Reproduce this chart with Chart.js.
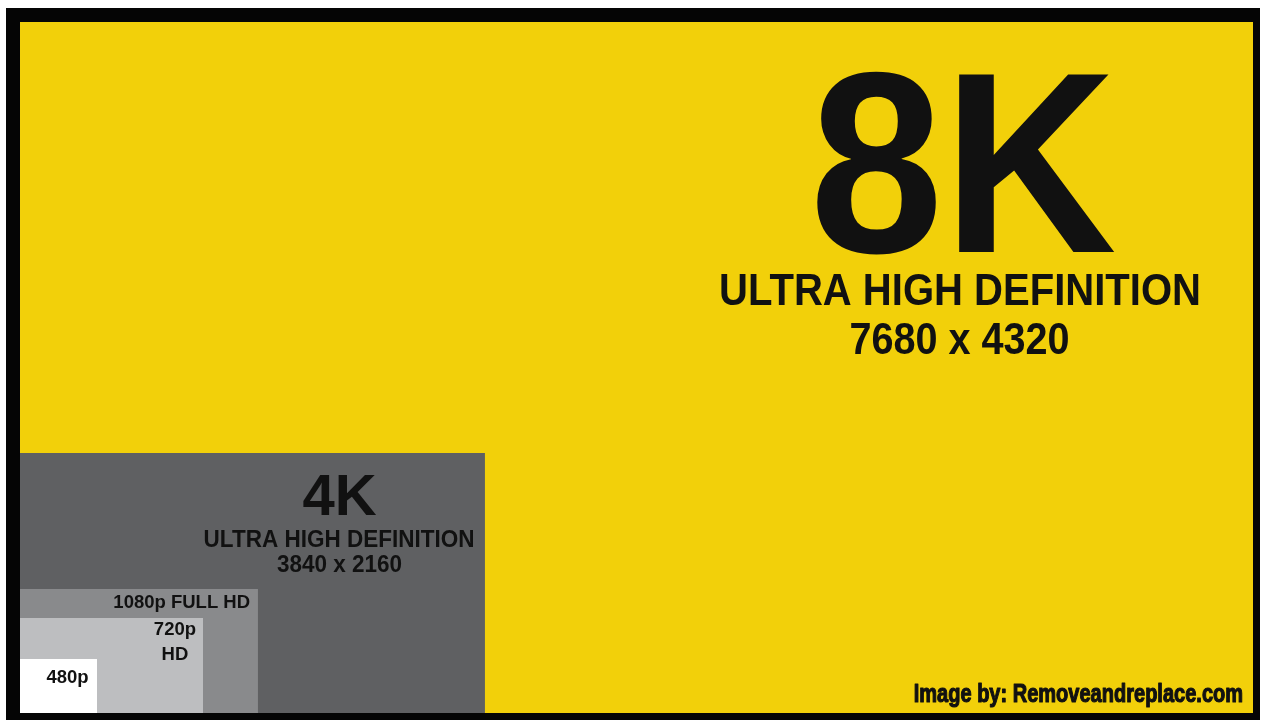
<!DOCTYPE html>
<html>
<head>
<meta charset="utf-8">
<script src="https://cdn.jsdelivr.net/npm/chart.js@4"></script>
<style>
  html, body { margin: 0; padding: 0; background: #fff; }
  #frame { position: absolute; left: 6px; top: 8px; padding: 14px 7px 7px 14px; background: #050505; }
  #box { position: relative; width: 1233px; height: 691px; }
</style>
</head>
<body>
<div id="frame"><div id="box"><canvas id="res-chart"></canvas></div></div>
<script>
// 各規格 (由小到大)
var formats = ['480p', '720p', '1080p', '4K', '8K'];
var resolutions = ['640 x 480', '1280 x 720', '1920 x 1080', '3840 x 2160', '7680 x 4320'];
// 圖上方塊的大小 (以 8K 畫面像素為單位, 從圖上量的)
var boxWidths = [480, 1140, 1482, 2896, 7680];
var boxHeights = [338, 594, 775, 1625, 4320];

var boxColors = ['#ffffff', '#bdbec0', '#898a8c', '#5f6062', '#f2d00a'];

// 方塊: 用線 + fill 到原點畫出矩形
var datasets = formats.map(function (f, i) {
  return {
    label: f,
    data: [{ x: 0, y: boxHeights[i] }, { x: boxWidths[i], y: boxHeights[i] }],
    borderWidth: 0,
    pointRadius: 0,
    backgroundColor: boxColors[i],
    fill: 'origin'
  };
});

// 文字 (位置用資料座標)
var texts = [
  { text: '8K', x: 5874, y: 2882, size: 258, sx: 0.93, align: 'center' },
  { text: 'ULTRA HIGH DEFINITION', x: 5855, y: 2551, size: 44, sx: 0.91, align: 'center' },
  { text: resolutions[4], x: 5852, y: 2245, size: 44, sx: 0.9, align: 'center' },
  { text: '4K', x: 1990, y: 1238, size: 58, sx: 1, align: 'center' },
  { text: 'ULTRA HIGH DEFINITION', x: 1987, y: 1038, size: 23.7, sx: 0.95, align: 'center' },
  { text: resolutions[3], x: 1990, y: 882, size: 23.7, sx: 0.95, align: 'center' },
  { text: '1080p FULL HD', x: 1433, y: 656, size: 18.5, sx: 1, align: 'right' },
  { text: '720p', x: 965, y: 488, size: 18.5, sx: 1, align: 'center' },
  { text: 'HD', x: 965, y: 331, size: 18.5, sx: 1, align: 'center' },
  { text: '480p', x: 296, y: 188, size: 18.5, sx: 1, align: 'center' },
  { text: 'Image by: Removeandreplace.com', x: 7618, y: 69, size: 26, sx: 0.77, align: 'right', stroke: 1.2 }
];

var labelPlugin = {
  id: 'labels',
  afterDatasetsDraw: function (chart) {
    var ctx = chart.ctx;
    var xs = chart.scales.x, ys = chart.scales.y;
    texts.forEach(function (t) {
      var px = xs.getPixelForValue(t.x);
      var py = ys.getPixelForValue(t.y);
      ctx.save();
      ctx.translate(px, py);
      ctx.scale(t.sx, 1);
      ctx.font = 'bold ' + t.size + 'px "Liberation Sans", Arial, sans-serif';
      ctx.fillStyle = '#111';
      ctx.textAlign = t.align;
      ctx.textBaseline = 'alphabetic';
      ctx.fillText(t.text, 0, 0);
      if (t.stroke) { // 粗一點
        ctx.strokeStyle = '#111';
        ctx.lineWidth = t.stroke;
        ctx.lineJoin = 'round';
        ctx.strokeText(t.text, 0, 0);
      }
      ctx.restore();
    });
  }
};

var ctx = document.getElementById('res-chart').getContext('2d');
var resChart = new Chart(ctx, {
  type: 'line',
  data: { datasets: datasets },
  options: {
    responsive: true,
    maintainAspectRatio: false,
    animation: false,
    layout: { padding: 0 },
    plugins: {
      legend: { display: false },
      tooltip: { enabled: false }
    },
    scales: {
      x: { type: 'linear', min: 0, max: 7680, display: false },
      y: { type: 'linear', min: 0, max: 4320, display: false }
    }
  },
  plugins: [labelPlugin]
});
</script>
</body>
</html>
